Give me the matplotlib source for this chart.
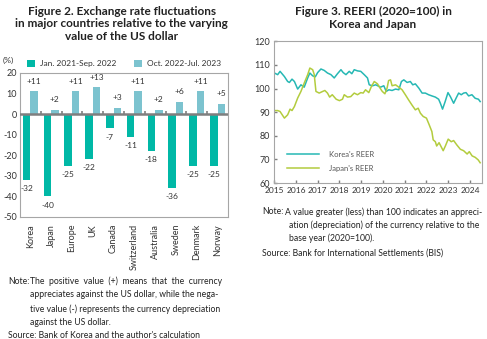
import numpy as np
import matplotlib
matplotlib.use('Agg')
import matplotlib.pyplot as plt

plt.rcParams['font.family'] = ['Lato', 'DejaVu Sans']

# Figure 2 data (%)
countries = ['Korea', 'Japan', 'Europe', 'UK', 'Canada', 'Switzerland',
             'Australia', 'Sweden', 'Denmark', 'Norway']
period1 = [-32, -40, -25, -22, -7, -11, -18, -36, -25, -25]
period2 = [11, 2, 11, 13, 3, 11, 2, 6, 11, 5]
legend1 = 'Jan. 2021-Sep. 2022'
legend2 = 'Oct. 2022-Jul. 2023'

# Figure 3 data: REER index (2020=100)
kor_t = [2015.01, 2015.16, 2015.27, 2015.47, 2015.62, 2015.70, 2015.82, 2015.93,
         2016.08, 2016.23, 2016.38, 2016.54, 2016.64, 2016.77, 2016.89, 2017.00,
         2017.15, 2017.30, 2017.45, 2017.61, 2017.76, 2017.91, 2018.07, 2018.17,
         2018.30, 2018.45, 2018.57, 2018.68, 2018.83, 2018.98, 2019.14, 2019.29,
         2019.37, 2019.52, 2019.67, 2019.89, 2020.04, 2020.15, 2020.27, 2020.42,
         2020.58, 2020.73, 2020.85, 2020.96, 2021.11, 2021.26, 2021.37, 2021.49,
         2021.65, 2021.80, 2021.95, 2022.10, 2022.25, 2022.41, 2022.56, 2022.64,
         2022.74, 2022.86, 2022.99, 2023.10, 2023.25, 2023.36, 2023.48, 2023.60,
         2023.71, 2023.82, 2023.94, 2024.09, 2024.24, 2024.39, 2024.47]
kor_v = [106.6, 105.9, 107.3, 105.1, 103.0, 102.6, 104.0, 103.0,
         99.8, 101.6, 100.6, 104.5, 106.6, 105.4, 105.0, 106.8,
         108.3, 107.7, 106.6, 105.9, 104.5, 106.3, 108.0, 106.8,
         105.9, 107.3, 106.3, 108.0, 107.5, 107.3, 105.9, 104.5,
         101.6, 101.2, 101.6, 100.6, 101.2, 98.8, 99.5, 99.2,
         99.8, 99.5, 103.0, 103.7, 102.6, 103.0, 101.6, 102.0,
         100.2, 98.1, 98.1, 97.4, 96.9, 96.4, 95.5, 93.8,
         91.3, 94.5, 98.3, 96.6, 93.8, 95.9, 98.1, 97.4,
         98.1, 98.3, 96.9, 97.4, 95.9, 95.5, 94.5]

jpn_t = [2015.01, 2015.16, 2015.27, 2015.47, 2015.62, 2015.73, 2015.82, 2015.93,
         2016.08, 2016.23, 2016.38, 2016.54, 2016.64, 2016.77, 2016.84, 2016.92,
         2017.07, 2017.23, 2017.33, 2017.45, 2017.55, 2017.67, 2017.85, 2018.00,
         2018.14, 2018.22, 2018.37, 2018.52, 2018.68, 2018.83, 2018.98, 2019.09,
         2019.20, 2019.35, 2019.47, 2019.60, 2019.75, 2019.82, 2019.97, 2020.09,
         2020.19, 2020.26, 2020.35, 2020.42, 2020.58, 2020.73, 2020.88, 2021.03,
         2021.18, 2021.33, 2021.49, 2021.62, 2021.72, 2021.85, 2022.00, 2022.13,
         2022.25, 2022.31, 2022.41, 2022.47, 2022.58, 2022.77, 2022.87, 2023.00,
         2023.14, 2023.25, 2023.40, 2023.56, 2023.71, 2023.87, 2023.97, 2024.10,
         2024.24, 2024.38, 2024.47]
jpn_v = [90.7, 90.7, 90.3, 87.5, 88.9, 91.3, 90.7, 92.4,
         96.0, 98.8, 102.3, 105.9, 108.7, 108.0, 106.0, 98.8,
         98.1, 98.8, 99.2, 98.1, 96.4, 97.4, 95.5, 94.9,
         95.5, 97.4, 96.4, 96.6, 98.1, 97.4, 98.3, 98.1,
         99.5, 98.3, 100.9, 103.0, 102.0, 100.9, 98.8, 97.8,
         100.2, 103.4, 103.7, 101.2, 101.6, 100.6, 99.5, 97.4,
         95.2, 93.1, 91.0, 91.7, 89.6, 88.2, 87.5, 84.6,
         81.8, 78.3, 77.5, 75.7, 77.1, 73.7, 75.7, 78.6,
         77.5, 78.0, 76.1, 74.3, 73.7, 72.3, 73.3, 71.5,
         70.9, 69.8, 68.6]

years = list(range(2015, 2025))

teal = '#00b8a6'
light = '#7cc3cf'
kor_col = '#26b8b4'
jpn_col = '#b3cc3e'
frame = '#a6a6a6'
txt = '#333333'

fig = plt.figure(figsize=(4.87, 3.39), dpi=100)

# ---------------- Figure 2 ----------------
ax1 = fig.add_axes([0.041, 0.36, 0.427, 0.425])
x = np.arange(len(countries))
w = 0.36
ax1.bar(x - w / 2, period1, w, color=teal, label=legend1, zorder=2)
ax1.bar(x + w / 2, period2, w, color=light, label=legend2, zorder=2)
ax1.axhline(0, color='#7f7f7f', lw=1.8, zorder=3)
ax1.vlines(x[:-1] + 0.5, 0, 1.6, color='#7f7f7f', lw=1.2, zorder=3)
for i in range(len(countries)):
    ax1.text(x[i] + w / 2, period2[i] + 3.2, '+%d' % period2[i], ha='center', va='bottom',
             fontsize=6, color=txt)
    ax1.text(x[i] - w / 2, period1[i] - 2.5, '%d' % period1[i], ha='center', va='top',
             fontsize=6, color=txt)
ax1.set_xlim(-0.5, len(countries) - 0.5)
ax1.set_ylim(-50, 20)
ax1.set_yticks(range(-50, 21, 10))
ax1.set_yticklabels([str(v) for v in range(-50, 21, 10)], fontsize=6.5, color=txt)
ax1.set_xticks(x)
ax1.set_xticklabels(countries, rotation=90, fontsize=6.5, color=txt)
ax1.tick_params(axis='both', length=0, pad=2)
ax1.tick_params(axis='x', pad=5)
for s in ax1.spines.values():
    s.set_color(frame)
    s.set_linewidth(0.8)
ax1.legend(loc='lower center', bbox_to_anchor=(0.5, 1.0), ncol=2, frameon=False,
           fontsize=6, handlelength=0.9, handleheight=0.9, columnspacing=2.2,
           handletextpad=0.6, borderaxespad=0.3, labelcolor=txt)
fig.text(0.006, 0.822, '(%)', fontsize=6, color=txt, va='center')

fig.text(0.25, 0.982, 'Figure 2. Exchange rate fluctuations\nin major countries relative to the varying\nvalue of the US dollar',
         ha='center', va='top', fontsize=8.5, fontweight='bold', color='#222222',
         linespacing=1.15)

note_l = 6.2
fig.text(0.016, 0.17, 'Note:', fontsize=note_l, va='center', color='#222222')
fig.text(0.062, 0.17, 'The  positive  value  (+)  means  that  the  currency', fontsize=note_l,
         va='center', color='#222222')
fig.text(0.062, 0.13, 'appreciates against the US dollar, while the nega-', fontsize=note_l,
         va='center', color='#222222')
fig.text(0.062, 0.088, 'tive value (-) represents the currency depreciation', fontsize=note_l,
         va='center', color='#222222')
fig.text(0.062, 0.048, 'against the US dollar.', fontsize=note_l, va='center', color='#222222')
fig.text(0.016, 0.011, "Source: Bank of Korea and the author's calculation", fontsize=note_l,
         va='center', color='#222222')

# ---------------- Figure 3 ----------------
ax2 = fig.add_axes([0.563, 0.46, 0.427, 0.418])
ax2.plot(kor_t, kor_v, color=kor_col, lw=1.1, label="Korea's REER")
ax2.plot(jpn_t, jpn_v, color=jpn_col, lw=1.1, label="Japan's REER")
ax2.set_xlim(2015, 2024.56)
ax2.set_ylim(60, 120)
ax2.set_xticks(years)
ax2.set_xticklabels([str(y) for y in years], fontsize=6, color=txt)
ax2.set_yticks(range(60, 121, 10))
ax2.set_yticklabels([str(v) for v in range(60, 121, 10)], fontsize=6.5, color=txt)
ax2.tick_params(axis='both', direction='in', length=2.5, width=1, color='#7f7f7f', pad=3)
for s in ax2.spines.values():
    s.set_color(frame)
    s.set_linewidth(0.8)
ax2.legend(loc='lower left', bbox_to_anchor=(0.03, 0.03), frameon=False, fontsize=5.5,
           handlelength=4.2, handletextpad=1.2, labelspacing=0.9, labelcolor='#555555')

fig.text(0.766, 0.982, 'Figure 3. REERI (2020=100) in\nKorea and Japan', ha='center', va='top',
         fontsize=8.5, fontweight='bold', color='#222222', linespacing=1.2)

note_r = 6.2
fig.text(0.538, 0.375, 'Note:', fontsize=note_r, va='center', color='#222222')
fig.text(0.585, 0.375, 'A value greater (less) than 100 indicates an appreci-', fontsize=note_r,
         va='center', color='#222222')
fig.text(0.593, 0.336, 'ation (depreciation) of the currency relative to the', fontsize=note_r,
         va='center', color='#222222')
fig.text(0.593, 0.297, 'base year (2020=100).', fontsize=note_r, va='center', color='#222222')
fig.text(0.538, 0.252, 'Source: Bank for International Settlements (BIS)', fontsize=note_r,
         va='center', color='#222222')

fig.savefig('out.png', dpi=100)
